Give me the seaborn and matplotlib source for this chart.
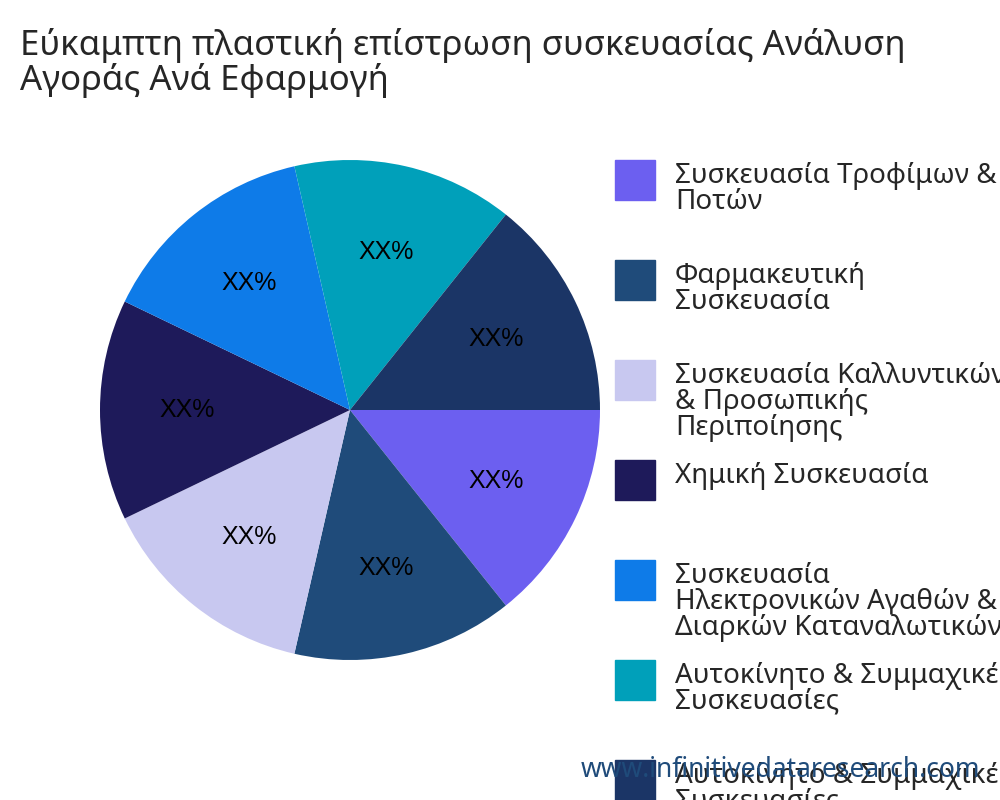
import matplotlib
matplotlib.use("Agg")
import matplotlib.pyplot as plt
import seaborn as sns
from matplotlib.patches import Rectangle

sns.set_theme(style="white")
plt.rcParams['font.family'] = ['Noto Sans', 'DejaVu Sans']

categories = ["Συσκευασία Τροφίμων &\nΠοτών", "Φαρμακευτική\nΣυσκευασία",
              "Συσκευασία Καλλυντικών\n& Προσωπικής\nΠεριποίησης", "Χημική Συσκευασία",
              "Συσκευασία\nΗλεκτρονικών Αγαθών &\nΔιαρκών Καταναλωτικών",
              "Αυτοκίνητο & Συμμαχικές\nΣυσκευασίες", "Αυτοκίνητο & Συμμαχικές\nΣυσκευασίες"]
values = [1, 1, 1, 1, 1, 1, 1]
labels = ["XX%"] * 7
colors = ["#6C5FF0", "#1F4B7A", "#C8C8F0", "#1E1A5A", "#0E7BE8", "#00A0BA", "#1B3566"]

fig = plt.figure(figsize=(10, 8), dpi=100)
ax = fig.add_axes([0.1, 0.175, 0.5, 0.625])
wedges, texts = ax.pie(values, colors=colors, startangle=0, counterclock=False,
                       labels=labels, labeldistance=0.65,
                       wedgeprops=dict(linewidth=0),
                       textprops=dict(fontsize=18, family='Liberation Sans', color='black'))
for t in texts:
    t.set_horizontalalignment('center')
ax.set_xlim(-1, 1)
ax.set_ylim(-1, 1)
ax.set_aspect('equal')

fig.text(0.02, 0.965, "Εύκαμπτη πλαστική επίστρωση συσκευασίας Ανάλυση\nΑγοράς Ανά Εφαρμογή",
         fontsize=25, va='top', ha='left', linespacing=1.0)

for i, (cat, c) in enumerate(zip(categories, colors)):
    ytop = 160 + 100 * i
    fig.patches.append(Rectangle((615 / 1000, 1 - (ytop + 40) / 800), 40 / 1000, 40 / 800,
                                 transform=fig.transFigure, color=c))
    fig.text(675 / 1000, 1 - (ytop + 2) / 800, cat, fontsize=20, va='top', ha='left',
             linespacing=0.9)

fig.text(0.98, 0.0375, "www.infinitivedataresearch.com", fontsize=19, color="#1F4B7A",
         ha='right', va='center')

fig.savefig("out.png", dpi=100)
